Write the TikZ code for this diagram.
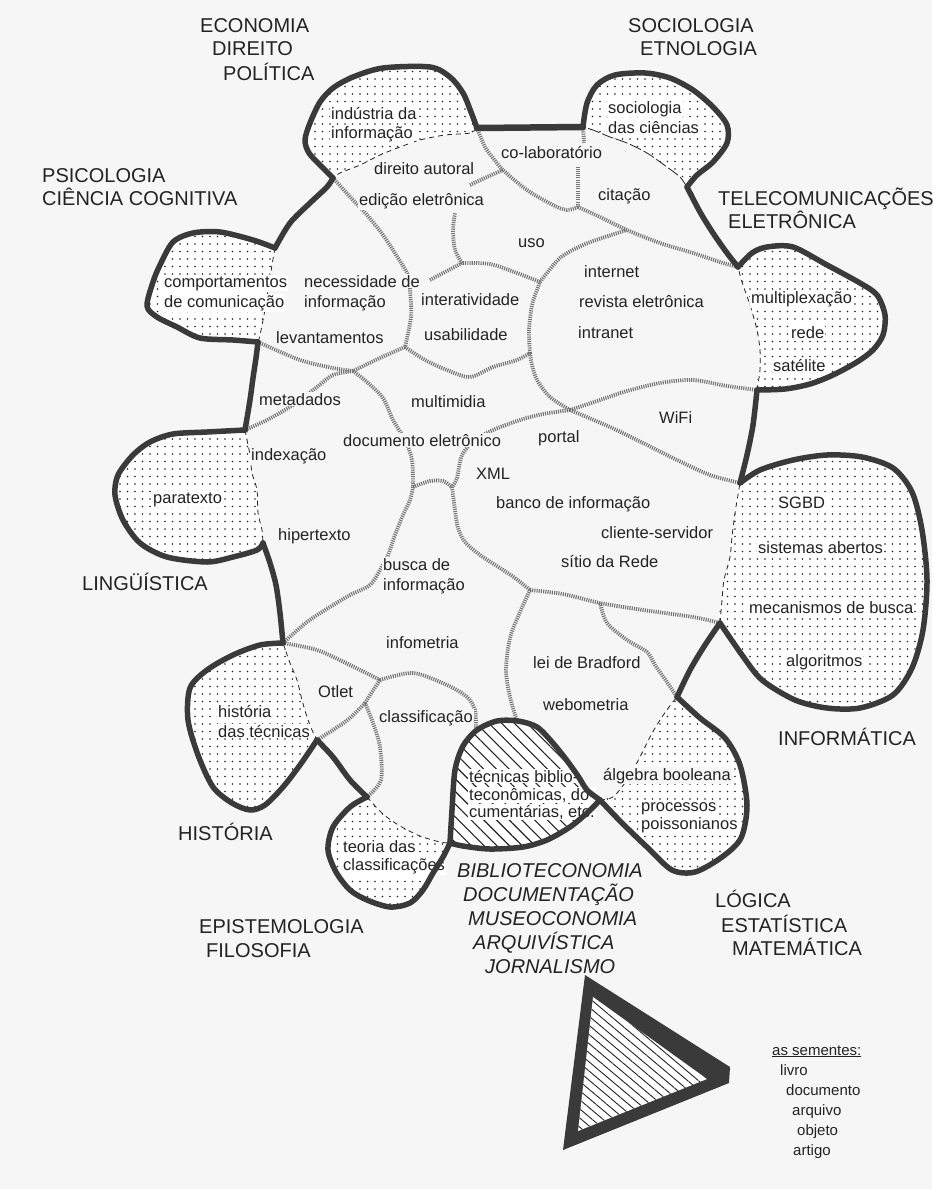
\documentclass[tikz,border=0pt]{standalone}
\usepackage{fontspec}
\setmainfont{Liberation Sans}
\usetikzlibrary{patterns.meta}
\definecolor{paper}{RGB}{246,246,246}
\definecolor{ink}{RGB}{35,35,35}
\definecolor{rimc}{RGB}{58,58,58}

\begin{document}
\begin{tikzpicture}[x=1pt, y=-1pt,
  rim/.style={draw=rimc, line width=5.5pt, line cap=round, line join=round},
  vein/.style={draw=black!55, line width=3.8pt, dash pattern=on 1.1pt off 1.1pt},
  seam/.style={draw=ink, line width=0.8pt, dash pattern=on 5pt off 4pt},
  lobe/.style={fill=white, postaction={pattern={Dots[distance=7.5pt, radius=0.85pt]}, pattern color=ink}},
  hatchlobe/.style={fill=white, postaction={pattern={Lines[angle=-45, distance=9pt, line width=1.1pt]}, pattern color=ink}},
  lbl/.style={font=\fontsize{16.5}{18}\selectfont, text=ink, fill=paper, inner sep=1pt, anchor=base west},
  inlbl/.style={lbl, fill=white},
  area/.style={font=\fontsize{20}{23}\selectfont, text=ink, inner sep=0pt, anchor=base west},
  field/.style={area, font=\fontsize{20}{23}\selectfont\itshape},
  seed/.style={font=\fontsize{15}{17}\selectfont, text=ink, inner sep=0pt, anchor=base west}]
\fill[paper] (0,0) rectangle (932,1189);
\useasboundingbox (0,0) rectangle (932,1189);

\coordinate (oA) at (333,178);
\coordinate (oB) at (477,128);
\coordinate (oC) at (583,127);
\coordinate (oD) at (687,187);
\coordinate (oE) at (738,267);
\coordinate (oF) at (757,390);
\coordinate (oG) at (740,483);
\coordinate (oH) at (720,623);
\coordinate (oI) at (677,697);
\coordinate (oJ) at (600,800);
\coordinate (oK) at (450,843);
\coordinate (oL) at (367,797);
\coordinate (oM) at (317,740);
\coordinate (oN) at (283,643);
\coordinate (oO) at (263,543);
\coordinate (oP) at (245,430);
\coordinate (oQ) at (258,342);
\coordinate (oR) at (275,248);

\coordinate (j1) at (405,347);
\coordinate (j2) at (353,371);
\coordinate (j3) at (530,353);
\coordinate (j4) at (540,282);
\coordinate (j5) at (570,410);
\coordinate (j6) at (462,263);
\coordinate (j7) at (578,207);
\coordinate (j8) at (627,230);
\coordinate (j9) at (413,487);
\coordinate (j10) at (452,487);
\coordinate (j11) at (530,590);
\coordinate (j12) at (380,680);
\coordinate (j13) at (365,703);
\coordinate (jb) at (503,170);
\coordinate (jc) at (600,603);

% lobes
\fill[lobe] plot[smooth cycle, tension=0.5] coordinates {(oA) (322,167) (309,153) (305,140) (310,123) (320,102) (333,88) (353,77) (383,68) (430,67) (450,77) (463,93) (471,112) (oB) (470,133) (445,135) (420,140) (400,147) (380,155) (360,165) (340,173)};
\fill[lobe] plot[smooth cycle, tension=0.5] coordinates {(oC) (587,103) (597,85) (615,75) (645,73) (670,78) (693,90) (713,107) (727,125) (727,143) (713,162) (697,175) (oD) (680,177) (667,167) (647,153) (627,143) (610,137) (593,130)};
\fill[lobe] plot[smooth cycle, tension=0.5] coordinates {(oE) (752,253) (767,247) (793,247) (827,265) (860,283) (877,295) (885,315) (883,335) (873,350) (857,362) (833,375) (810,384) (785,389) (oF) (760,370) (760,350) (757,330) (750,305) (742,282)};
\fill[lobe] plot[smooth cycle, tension=0.5] coordinates {(oG) (760,470) (793,460) (827,455) (862,457) (893,468) (912,492) (922,530) (927,580) (923,630) (912,668) (893,695) (860,708) (827,708) (795,700) (762,680) (742,655) (oH) (722,600) (724,580) (730,557) (732,537) (735,513) (738,495)};
\fill[lobe] plot[smooth cycle, tension=0.5] coordinates {(oI) (700,718) (725,738) (740,765) (747,805) (741,838) (722,857) (695,872) (672,870) (648,848) (622,823) (oJ) (613,797) (627,780) (640,757) (650,737) (660,720) (672,703)};
\fill[lobe] plot[smooth cycle, tension=0.5] coordinates {(oK) (443,857) (433,873) (423,890) (410,903) (390,907) (367,900) (350,890) (336,872) (328,850) (333,827) (350,807) (oL) (383,814) (400,826) (420,836) (440,842)};
\fill[lobe] plot[smooth cycle, tension=0.5] coordinates {(oM) (300,765) (283,787) (265,805) (250,810) (232,803) (213,787) (198,755) (188,720) (190,688) (207,670) (233,655) (260,645) (oN) (290,663) (297,680) (302,700) (307,717) (312,730)};
\fill[lobe] plot[smooth cycle, tension=0.5] coordinates {(oO) (257,550) (233,557) (207,562) (167,557) (140,543) (123,520) (115,495) (118,475) (133,455) (150,442) (173,434) (207,432) (oP) (247,440) (250,455) (252,473) (257,490) (258,513) (262,530)};
\fill[lobe] plot[smooth cycle, tension=0.5] coordinates {(oQ) (233,340) (200,338) (177,327) (157,317) (147,306) (153,282) (160,265) (173,242) (193,233) (220,232) (253,240) (oR) (272,265) (268,290) (264,315) (260,335)};
\fill[hatchlobe] plot[smooth cycle, tension=0.5] coordinates {(oJ) (587,790) (578,776) (565,758) (552,742) (537,727) (518,721) (497,721) (477,730) (463,746) (455,770) (452,810) (oK) (463,846) (490,849) (523,847) (547,840) (570,827) (587,813)};

% veins
\draw[vein] plot[smooth] coordinates {(oA) (353,200) (367,215) (383,235) (398,258) (408,275) (410,290) (411,317) (j1)};
\draw[vein] plot[smooth] coordinates {(j1) (380,358) (j2)};
\draw[vein] plot[smooth] coordinates {(oQ) (300,360) (333,368) (j2)};
\draw[vein] plot[smooth] coordinates {(j2) (333,375) (317,387) (293,405) (267,420) (oP)};
\draw[vein] plot[smooth] coordinates {(j2) (367,382) (383,398) (393,420) (405,440) (412,460) (j9)};
\draw[vein] plot[smooth] coordinates {(j1) (425,360) (447,370) (470,377) (493,367) (517,360) (j3)};
\draw[vein] plot[smooth] coordinates {(j3) (529,330) (532,305) (537,290) (j4)};
\draw[vein] plot[smooth] coordinates {(j3) (532,365) (537,380) (550,397) (j5)};
\draw[vein] plot[smooth] coordinates {(j4) (517,273) (490,264) (j6)};
\draw[vein] plot[smooth] coordinates {(j6) (455,250) (453,230) (455,213)};
\draw[vein] plot[smooth] coordinates {(j6) (445,272) (430,280)};
\draw[vein] plot[smooth] coordinates {(j4) (560,258) (583,245) (605,237) (j8)};
\draw[vein] plot[smooth] coordinates {(oB) (485,147) (493,158) (jb) (527,190) (553,205) (567,210) (j7)};
\draw[vein] plot[smooth] coordinates {(jb) (487,177) (470,185)};
\draw[vein] (j7) -- (578,167);
\draw[vein] (oC) -- (584,143);
\draw[vein] plot[smooth] coordinates {(j7) (600,217) (j8) (660,243) (693,253) (720,262) (oE)};
\draw[vein] plot[smooth] coordinates {(j5) (600,400) (627,391) (660,383) (693,380) (727,386) (oF)};
\draw[vein] plot[smooth] coordinates {(j5) (610,427) (643,443) (677,460) (710,475) (oG)};
\draw[vein] plot[smooth] coordinates {(j5) (543,414) (520,420) (493,430) (475,440) (462,455) (457,478) (j10)};
\draw[vein] plot[smooth] coordinates {(j9) (430,481) (443,481) (j10)};
\draw[vein] plot[smooth] coordinates {(j10) (455,510) (458,528) (465,542) (480,555) (500,568) (515,578) (j11)};
\draw[vein] plot[smooth] coordinates {(j9) (410,500) (403,515) (395,535) (388,555) (380,570) (370,585) (350,595) (330,607) (307,622) (oN)};
\draw[vein] plot[smooth] coordinates {(j11) (563,594) (jc) (643,610) (693,617) (oH)};
\draw[vein] plot[smooth] coordinates {(jc) (607,623) (627,640) (647,652) (655,665) (667,682) (oI)};
\draw[vein] plot[smooth] coordinates {(j11) (520,612) (510,638) (506,670) (510,697) (517,721)};
\draw[vein] plot[smooth] coordinates {(oN) (317,650) (350,665) (j12)};
\draw[vein] plot[smooth] coordinates {(j12) (413,673) (447,685) (467,697) (475,710) (476,728)};
\draw[vein] plot[smooth] coordinates {(j12) (372,692) (j13)};
\draw[vein] plot[smooth] coordinates {(j13) (350,718) (333,730) (oM)};
\draw[vein] plot[smooth] coordinates {(j13) (373,723) (380,747) (381,780) (oL)};

% inner edges of the lobes
\draw[seam] plot[smooth] coordinates {(oB) (470,133) (445,135) (420,140) (400,147) (380,155) (360,165) (340,173) (oA)};
\draw[seam, dash pattern=on 12pt off 3pt] plot[smooth] coordinates {(oD) (680,177) (667,167) (647,153) (627,143) (610,137) (593,130) (oC)};
\draw[seam] plot[smooth] coordinates {(oF) (760,370) (760,350) (757,330) (750,305) (742,282) (oE)};
\draw[seam] plot[smooth] coordinates {(oH) (722,600) (724,580) (730,557) (732,537) (735,513) (738,495) (oG)};
\draw[seam] plot[smooth] coordinates {(oJ) (613,797) (627,780) (640,757) (650,737) (660,720) (672,703) (oI)};
\draw[seam] plot[smooth] coordinates {(oL) (383,814) (400,826) (420,836) (440,842) (oK)};
\draw[seam] plot[smooth] coordinates {(oN) (290,663) (297,680) (302,700) (307,717) (312,730) (oM)};
\draw[seam] plot[smooth] coordinates {(oP) (247,440) (250,455) (252,473) (257,490) (258,513) (262,530) (oO)};
\draw[seam] plot[smooth] coordinates {(oR) (272,265) (268,290) (264,315) (260,335) (oQ)};

% labels
\node[inlbl] (industria) at (330,119) {indústria da};
\node[inlbl] (indinfo) at (330,138) {informação};
\node[lbl] (direito) at (373,174) {direito autoral};
\node[lbl] (edicao) at (358,205) {edição eletrônica};
\node[lbl] (colab) at (500,158) {co-laboratório};
\node[inlbl] (sociol) at (607,113) {sociologia};
\node[inlbl] (dascienc) at (607,133) {das ciências};
\node[lbl] (citacao) at (597,200) {citação};
\node[lbl] (uso) at (517,247) {uso};
\node[lbl] (internet) at (583,277) {internet};
\node[lbl] (revista) at (578,307) {revista eletrônica};
\node[lbl] (intranet) at (577,338) {intranet};
\node[inlbl] (multiplex) at (750,303) {multiplexação};
\node[inlbl] (rede) at (790,338) {rede};
\node[inlbl] (satelite) at (772,371) {satélite};
\node[inlbl] (comport) at (163,287) {comportamentos};
\node[inlbl] (decomunic) at (163,307) {de comunicação};
\node[lbl] (necess) at (303,287) {necessidade de};
\node[lbl] (necinfo) at (303,307) {informação};
\node[lbl] (interat) at (420,305) {interatividade};
\node[lbl] (usab) at (423,340) {usabilidade};
\node[lbl] (levant) at (275,343) {levantamentos};
\node[lbl] (metad) at (258,405) {metadados};
\node[lbl] (multim) at (410,407) {multimidia};
\node[lbl] (wifi) at (658,423) {WiFi};
\node[lbl] (portal) at (537,442) {portal};
\node[lbl] (docel) at (342,446) {documento eletrônico};
\node[lbl] (index) at (250,460) {indexação};
\node[lbl] (xml) at (475,479) {XML};
\node[inlbl] (paratexto) at (152,503) {paratexto};
\node[lbl] (banco) at (495,508) {banco de informação};
\node[inlbl] (sgbd) at (777,508) {SGBD};
\node[lbl] (hipert) at (277,540) {hipertexto};
\node[lbl] (cliente) at (600,538) {cliente-servidor};
\node[inlbl] (sistemas) at (757,553) {sistemas abertos};
\node[lbl] (sitio) at (560,567) {sítio da Rede};
\node[lbl] (busca) at (382,570) {busca de};
\node[lbl] (buscainfo) at (382,590) {informação};
\node[inlbl] (mecan) at (748,613) {mecanismos de busca};
\node[lbl] (infometria) at (385,648) {infometria};
\node[lbl] (bradford) at (532,668) {lei de Bradford};
\node[inlbl] (algor) at (785,666) {algoritmos};
\node[lbl] (otlet) at (317,697) {Otlet};
\node[inlbl] (historia) at (217,717) {história};
\node[inlbl] (dastec) at (217,737) {das técnicas};
\node[lbl] (classif) at (378,722) {classificação};
\node[lbl] (webom) at (542,710) {webometria};
\node[inlbl] (tecn1) at (468,782) {técnicas biblio-};
\node[inlbl] (tecn2) at (468,800) {teconômicas, do-};
\node[inlbl] (tecn3) at (468,817) {cumentárias, etc.};
\node[lbl] (algebra) at (602,780) {álgebra booleana};
\node[inlbl] (processos) at (640,811) {processos};
\node[inlbl] (poisson) at (640,829) {poissonianos};
\node[inlbl] (teoria) at (342,852) {teoria das};
\node[inlbl] (classifs) at (342,870) {classificações};

% rim
\draw[rim] plot[smooth] coordinates {(oA) (322,167) (309,153) (305,140) (310,123) (320,102) (333,88) (353,77) (383,68) (430,67) (450,77) (463,93) (471,112) (oB)};
\draw[rim, line width=6.5pt] (oB) -- (oC);
\draw[rim] plot[smooth] coordinates {(oC) (587,103) (597,85) (615,75) (645,73) (670,78) (693,90) (713,107) (727,125) (727,143) (713,162) (697,175) (oD)};
\draw[rim] plot[smooth] coordinates {(oD) (700,212) (713,233) (727,253) (oE)};
\draw[rim] plot[smooth] coordinates {(oE) (752,253) (767,247) (793,247) (827,265) (860,283) (877,295) (885,315) (883,335) (873,350) (857,362) (833,375) (810,384) (785,389) (oF)};
\draw[rim] plot[smooth] coordinates {(oF) (753,425) (747,455) (oG)};
\draw[rim] plot[smooth] coordinates {(oG) (760,470) (793,460) (827,455) (862,457) (893,468) (912,492) (922,530) (927,580) (923,630) (912,668) (893,695) (860,708) (827,708) (795,700) (762,680) (742,655) (oH)};
\draw[rim] plot[smooth] coordinates {(oH) (705,645) (690,670) (oI)};
\draw[rim] plot[smooth] coordinates {(oI) (700,718) (725,738) (740,765) (747,805) (741,838) (722,857) (695,872) (672,870) (648,848) (622,823) (oJ)};
\draw[rim] plot[smooth] coordinates {(oJ) (587,790) (578,776) (565,758) (552,742) (537,727) (518,721) (497,721) (477,730) (463,746) (455,770) (452,810) (oK)};
\draw[rim] plot[smooth] coordinates {(oK) (463,846) (490,849) (523,847) (547,840) (570,827) (587,813) (oJ)};
\draw[rim] plot[smooth] coordinates {(oK) (443,857) (433,873) (423,890) (410,903) (390,907) (367,900) (350,890) (336,872) (328,850) (333,827) (350,807) (oL)};
\draw[rim] plot[smooth] coordinates {(oL) (350,780) (333,757) (oM)};
\draw[rim] plot[smooth] coordinates {(oM) (300,765) (283,787) (265,805) (250,810) (232,803) (213,787) (198,755) (188,720) (190,688) (207,670) (233,655) (260,645) (oN)};
\draw[rim] plot[smooth] coordinates {(oN) (280,613) (276,585) (270,563) (oO)};
\draw[rim] plot[smooth] coordinates {(oO) (257,550) (233,557) (207,562) (167,557) (140,543) (123,520) (115,495) (118,475) (133,455) (150,442) (173,434) (207,432) (oP)};
\draw[rim] plot[smooth] coordinates {(oP) (250,400) (253,378) (256,358) (oQ)};
\draw[rim] plot[smooth] coordinates {(oQ) (233,340) (200,338) (177,327) (157,317) (147,306) (153,282) (160,265) (173,242) (193,233) (220,232) (253,240) (oR)};
\draw[rim] plot[smooth] coordinates {(oR) (290,223) (310,203) (327,187) (oA)};

% fields around the blob
\node[area] (econ) at (200,32) {ECONOMIA};
\node[area] (dir) at (212,55) {DIREITO};
\node[area] (pol) at (223,80) {POLÍTICA};
\node[area] (soc) at (628,32) {SOCIOLOGIA};
\node[area] (etno) at (640,55) {ETNOLOGIA};
\node[area] (psico) at (42,182) {PSICOLOGIA};
\node[area] (cogn) at (42,205) {CIÊNCIA COGNITIVA};
\node[area] (telecom) at (718,205) {TELECOMUNICAÇÕES};
\node[area] (eletr) at (728,228) {ELETRÔNICA};
\node[area] (ling) at (82,590) {LINGÜÍSTICA};
\node[area] (hist) at (178,840) {HISTÓRIA};
\node[area] (inform) at (778,745) {INFORMÁTICA};
\node[area] (epist) at (199,933) {EPISTEMOLOGIA};
\node[area] (filos) at (206,957) {FILOSOFIA};
\node[area] (logica) at (715,907) {LÓGICA};
\node[area] (estat) at (721,932) {ESTATÍSTICA};
\node[area] (matem) at (732,955) {MATEMÁTICA};
\node[field] (biblio) at (457,877) {BIBLIOTECONOMIA};
\node[field] (docum) at (463,901) {DOCUMENTAÇÃO};
\node[field] (museo) at (468,925) {MUSEOCONOMIA};
\node[field] (arqui) at (473,949) {ARQUIVÍSTICA};
\node[field] (jorn) at (485,973) {JORNALISMO};

% the seeds
\fill[rimc] (585,975) -- (730,1067) -- (729,1083) -- (563,1150) -- cycle;
\fill[white] (593,997) -- (707,1079) -- (578,1131) -- cycle;
\fill[pattern={Lines[angle=-40, distance=7pt, line width=0.9pt]}, pattern color=ink] (593,997) -- (707,1079) -- (578,1131) -- cycle;
\node[seed] (sementes) at (772,1055) {\underline{as sementes:}};
\node[seed] (livro) at (780,1075) {livro};
\node[seed] (documento) at (786,1095) {documento};
\node[seed] (arquivo) at (792,1115) {arquivo};
\node[seed] (objeto) at (797,1135) {objeto};
\node[seed] (artigo) at (793,1155) {artigo};
\end{tikzpicture}
\end{document}
